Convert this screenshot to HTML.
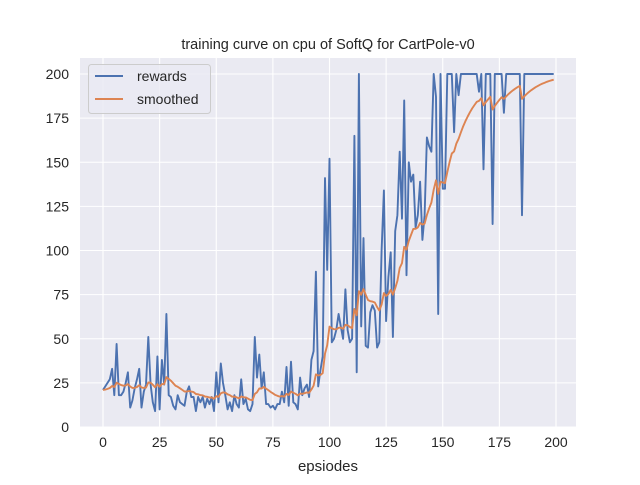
<!DOCTYPE html>
<html><head><meta charset="utf-8"><style>
body{margin:0;background:#fff;}
svg text{font-family:"Liberation Sans",Arial,sans-serif;fill:#262626;}
</style></head><body>
<svg id="s" width="640" height="480" xmlns="http://www.w3.org/2000/svg">
<rect x="0" y="0" width="640" height="480" fill="#fff"/>
<rect x="80" y="58" width="496" height="369" fill="#eaeaf2"/>
<g id="grid" stroke="#fff" stroke-width="1.1"></g>
<g id="ticks" font-size="14"></g>
<polyline id="r" fill="none" stroke="#4c72b0" stroke-width="1.9" stroke-linejoin="round"/>
<polyline id="m" fill="none" stroke="#dd8452" stroke-width="1.9" stroke-linejoin="round"/>
<text x="328" y="49" font-size="14.5" text-anchor="middle">training curve on cpu of SoftQ for CartPole-v0</text>
<text x="328" y="471" font-size="15" text-anchor="middle">epsiodes</text>
<rect x="88.5" y="64.5" width="122" height="49" rx="3" fill="#eaeaf2" fill-opacity="0.8" stroke="#ccc"/>
<line x1="95" y1="76" x2="123" y2="76" stroke="#4c72b0" stroke-width="1.9"/>
<text x="137" y="81" font-size="14">rewards</text>
<line x1="95" y1="99" x2="123" y2="99" stroke="#dd8452" stroke-width="1.9"/>
<text x="137" y="104" font-size="14">smoothed</text>
</svg>
<script>
var X=function(i){return 103+2.265*i},Y=function(v){return 427-1.765*v};
var g=document.getElementById('grid'),t=document.getElementById('ticks'),h='',tt='';
for(var i=0;i<=200;i+=25){var x=X(i);h+='<line x1="'+x+'" y1="58" x2="'+x+'" y2="427"/>';tt+='<text x="'+x+'" y="447" text-anchor="middle">'+i+'</text>';}
for(var v=0;v<=200;v+=25){var y=Y(v);h+='<line x1="80" y1="'+y+'" x2="576" y2="'+y+'"/>';tt+='<text x="69" y="'+(y+5)+'" text-anchor="end">'+v+'</text>';}
g.innerHTML=h;t.innerHTML=tt;
var d=[21,23,25,27,33,18,47,18,18,20,25,31,11,15,22,27,33,11,20,24,51,24,14,9,40,10,38,24,64,18,17,12,10,18,14,13,12,20,23,17,17,9,17,14,17,11,16,13,17,9,31,14,36,25,18,10,14,9,18,13,11,27,13,16,10,9,13,51,28,41,22,31,13,13,11,12,10,13,13,20,14,34,12,37,14,13,10,28,18,22,24,17,38,43,88,23,32,40,141,89,152,48,50,55,64,57,50,78,55,48,50,165,31,200,57,107,46,45,65,69,66,45,48,100,134,60,85,99,51,111,120,156,118,185,86,150,139,143,113,120,139,106,120,164,159,156,200,187,64,200,135,135,200,200,200,167,200,188,200,200,200,200,200,200,200,200,190,200,146,200,200,200,115,200,200,200,200,178,200,200,200,200,200,200,200,120,200,200,200,200,200,200,200,200,200,200,200,200,200,200];
var p=[],q=[],s=d[0];
for(var i=0;i<d.length;i++){s=i?0.9*s+0.1*d[i]:d[0];p.push(X(i).toFixed(1)+','+Y(d[i]).toFixed(1));q.push(X(i).toFixed(1)+','+Y(s).toFixed(1));}
document.getElementById('r').setAttribute('points',p.join(' '));
document.getElementById('m').setAttribute('points',q.join(' '));
</script>
</body></html>
